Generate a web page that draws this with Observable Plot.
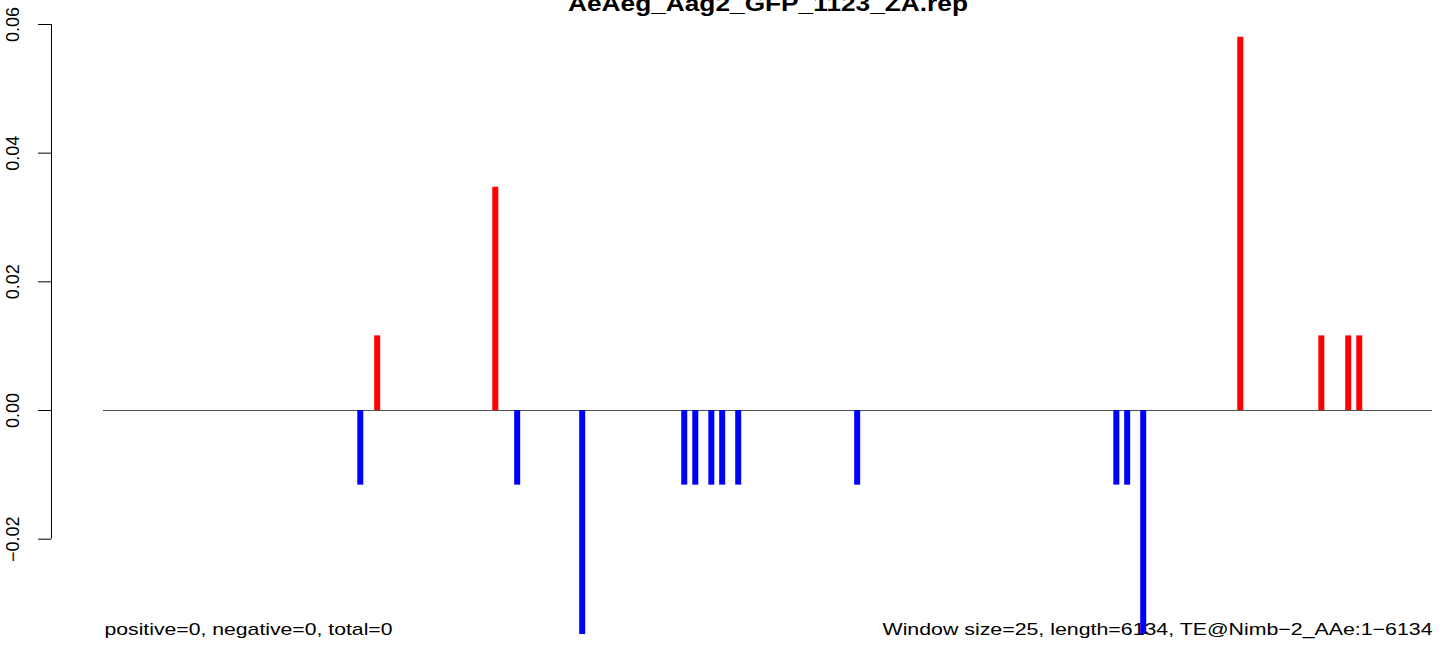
<!DOCTYPE html>
<html>
<head>
<meta charset="utf-8">
<script src="https://cdn.jsdelivr.net/npm/d3@7"></script>
<script src="https://cdn.jsdelivr.net/npm/@observablehq/plot@0.6"></script>
<style>
  html, body { margin: 0; padding: 0; background: #fff; overflow: hidden; }
  #chart svg { display: block; }
</style>
</head>
<body>
<div id="chart"></div>
<script>
// ---- data ----
const title = "AeAeg_Aag2_GFP_1123_ZA.rep";
const seqLength = 6134;
const positions = [1186, 1264, 1809, 1910, 2210, 2681, 2732, 2806, 2856, 2930, 3479, 4675, 4725, 4799, 5247, 5621, 5745, 5796];
const values = [-0.0116, 0.0116, 0.0347, -0.0116, -0.0348, -0.0116, -0.0116, -0.0116, -0.0116, -0.0116, -0.0116, -0.0116, -0.0116, -0.0348, 0.058, 0.0116, 0.0116, 0.0116];
const yTicks = [-0.02, 0, 0.02, 0.04, 0.06];
const yTickLabels = ["\u22120.02", "0.00", "0.02", "0.04", "0.06"];
const footerLeft = "positive=0, negative=0, total=0";
const footerRight = "Window size=25, length=6134, TE@Nimb\u22122_AAe:1\u22126134";

const bars = positions.map((p, i) => ({pos: p, value: values[i]}));
const tickRows = yTicks.map((t, i) => ({t, label: yTickLabels[i]}));

const chart = Plot.plot({
  width: 1444,
  height: 646,
  marginLeft: 103,
  marginRight: 12,
  marginTop: 0,
  marginBottom: 0,
  style: {fontFamily: "'Liberation Sans', Arial, Helvetica, sans-serif", background: "#fff", color: "#000"},
  x: {domain: [1, seqLength], axis: null},
  y: {domain: [-0.03668, 0.06373], axis: null},
  marks: [
    // zero line
    Plot.ruleY([0], {x1: 1, x2: seqLength, stroke: "#4d4d4d", strokeWidth: 1}),
    // bars
    Plot.ruleX(bars, {
      x: "pos", y1: 0, y2: "value",
      stroke: d => d.value >= 0 ? "#ff0000" : "#0000ff",
      strokeWidth: 6, strokeLinecap: "butt"
    }),
    // y axis line
    Plot.ruleX([1], {y1: d3.min(yTicks), y2: d3.max(yTicks), dx: -52, stroke: "#000", strokeWidth: 1}),
    // y axis ticks
    Plot.axisY({
      ticks: yTicks,
      tickFormat: () => "",
      tickSize: 13,
      dx: -52,
      stroke: "#000",
      label: null
    }),
    // y tick labels (rotated)
    Plot.text(tickRows, {
      y: "t", text: "label",
      frameAnchor: "left", dx: -90,
      rotate: -90, textAnchor: "middle", lineAnchor: "middle",
      fontSize: 18, fill: "#000"
    }),
    // title (clipped at top as in the reference)
    Plot.text([title], {
      frameAnchor: "top", lineAnchor: "bottom", dy: 10,
      fontSize: 22, fontWeight: "bold", fill: "#000", className: "ttl"
    }),
    // footers
    Plot.text([footerLeft], {
      frameAnchor: "bottom-left", textAnchor: "start", lineAnchor: "bottom",
      dx: 1, dy: -12, fontSize: 17, fill: "#000", className: "fl"
    }),
    Plot.text([footerRight], {
      frameAnchor: "bottom-right", textAnchor: "end", lineAnchor: "bottom",
      dy: -12, fontSize: 17, fill: "#000", className: "fr"
    })
  ]
});

document.getElementById("chart").appendChild(chart);

// horizontal stretch of texts like the reference
function stretch(cls, len) {
  d3.select(chart).selectAll("g." + cls + " text")
    .attr("textLength", len)
    .attr("lengthAdjust", "spacingAndGlyphs");
}
stretch("ttl", 400);
stretch("fl", 288);
stretch("fr", 550);
</script>
</body>
</html>
